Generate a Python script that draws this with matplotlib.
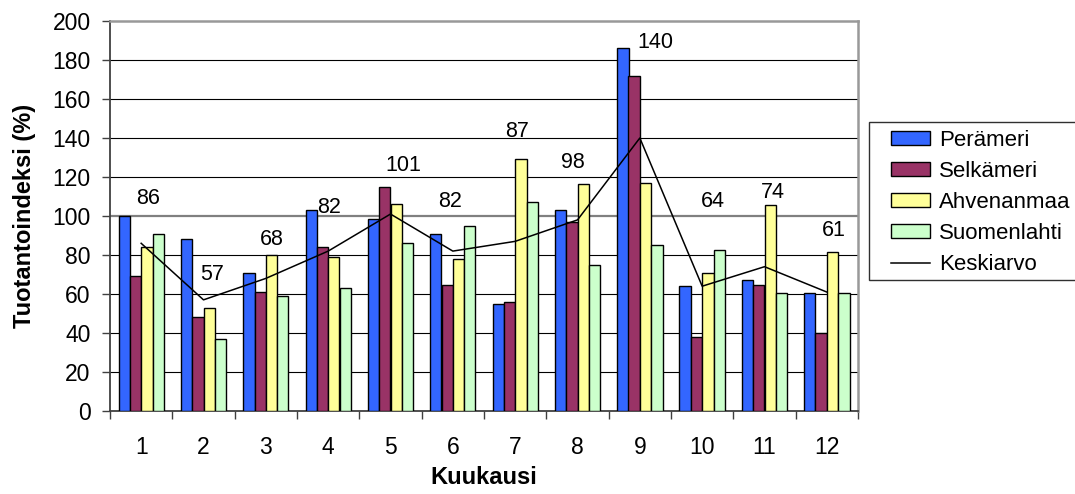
import numpy as np
import matplotlib
matplotlib.use("Agg")
import matplotlib.pyplot as plt
from matplotlib.patches import Rectangle

plt.rcParams['font.family'] = ['Liberation Sans', 'DejaVu Sans']

months = ["1", "2", "3", "4", "5", "6", "7", "8", "9", "10", "11", "12"]
peramieri = [100, 88, 71, 103, 98.5, 91, 55, 103, 186, 64, 67, 60.5]
selkameri = [69, 48, 61, 84, 115, 64.5, 56, 97, 172, 38, 64.5, 40]
ahvenanmaa = [84, 53, 80, 79, 106, 78, 129, 116.5, 117, 71, 105.5, 81.5]
suomenlahti = [91, 37, 59, 63, 86, 95, 107, 75, 85, 82.5, 60.5, 60.5]
keskiarvo = [86, 57, 68, 82, 101, 82, 87, 98, 140, 64, 74, 61]

series_names = ["Perämeri", "Selkämeri", "Ahvenanmaa", "Suomenlahti"]
series_values = [peramieri, selkameri, ahvenanmaa, suomenlahti]
series_colors = ["#3366FF", "#993366", "#FFFF99", "#CCFFCC"]

# label offsets (pixels) relative to each point of the average line
label_offsets = [(7, 45), (9, 25), (6, 39), (1, 44), (13, 49), (-3, 50),
                 (2, 110), (-5, 57), (16, 95), (11, 85), (8, 74), (7, 62)]

TICK_FS = 16.5
LABEL_FS = 15.5
LEG_FS = 16
W, H = 1075, 494
fig = plt.figure(figsize=(W / 100, H / 100), dpi=100)
ax = fig.add_axes([110 / W, (H - 411) / H, 748 / W, 390 / H])

x = np.arange(1, len(months) + 1)
bw = 1 / 5.5
for i, (name, vals, col) in enumerate(zip(series_names, series_values, series_colors)):
    ax.bar(x + (i - 1.5) * bw, vals, width=bw, color=col, edgecolor="black",
           linewidth=1.0, zorder=3, label=name)

ax.plot(x, keskiarvo, color="black", linewidth=1.1, zorder=4, label="Keskiarvo")
for xi, v, (dx, dy) in zip(x, keskiarvo, label_offsets):
    ax.annotate(str(v), (xi, v), xytext=(dx, dy), textcoords="offset pixels",
                ha="center", va="center", fontsize=LABEL_FS, zorder=5)

ax.set_xlim(0.5, 12.5)
ax.set_ylim(0, 200)
ax.set_yticks(np.arange(0, 201, 20))
for yv in range(20, 200, 20):
    if yv == 100:
        ax.axhline(yv, color="#808080", linewidth=1.6, zorder=1)
    else:
        ax.axhline(yv, color="black", linewidth=0.8, zorder=1)

ax.set_xticks(x)
ax.set_xticklabels(months)
ax.set_xticks(np.arange(0.5, 12.6, 1), minor=True)
ax.tick_params(axis="x", which="major", length=0, pad=18, labelsize=TICK_FS)
ax.tick_params(axis="x", which="minor", length=5.5, width=1, color="#404040", direction="out")
ax.tick_params(axis="y", length=6, width=1, color="#404040", pad=8, labelsize=TICK_FS)

for side in ["top", "right"]:
    ax.spines[side].set_color("#999999")
    ax.spines[side].set_linewidth(1.8)
ax.spines["left"].set_color("#404040")
ax.spines["left"].set_linewidth(1.3)
ax.spines["bottom"].set_color("#404040")
ax.spines["bottom"].set_linewidth(1.3)

ax.set_xlabel("Kuukausi", fontsize=17, fontweight="bold", labelpad=5)
ax.set_ylabel("Tuotantoindeksi (%)", fontsize=17, fontweight="bold", labelpad=12)

# legend frame extends beyond the right edge of the figure
fig.patches.append(Rectangle((869 / W, (H - 280) / H), 260 / W, 158 / H,
                             transform=fig.transFigure, facecolor="white",
                             edgecolor="#303030", linewidth=1.0))
handles, labels = ax.get_legend_handles_labels()
order = [1, 2, 3, 4, 0]
handles = [handles[i] for i in order]
labels = [labels[i] for i in order]
leg = fig.legend(handles, labels, loc="upper left",
                 bbox_to_anchor=(891 / W, (H - 130) / H), frameon=False,
                 fontsize=LEG_FS, borderpad=0, borderaxespad=0, labelspacing=0.45,
                 handlelength=1.75, handleheight=0.6, handletextpad=0.4)

fig.savefig("out.png", dpi=100)
